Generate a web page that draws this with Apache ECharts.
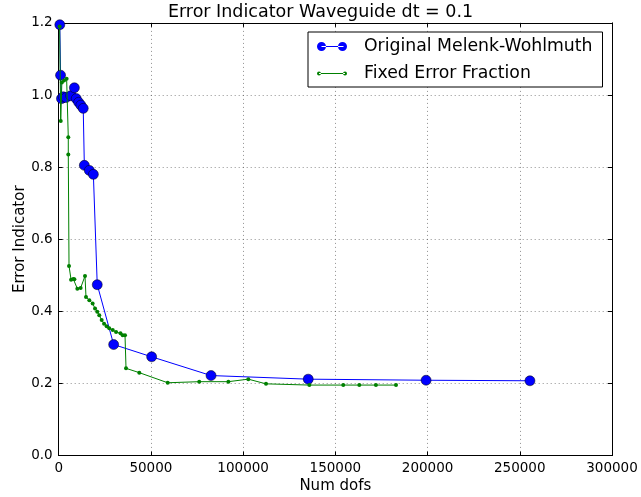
<!DOCTYPE html>
<html>
<head>
<meta charset="utf-8">
<script src="https://cdn.jsdelivr.net/npm/echarts@6/dist/echarts.min.js"></script>
<style>
  html, body { margin: 0; padding: 0; background: #fff; }
  #chart { width: 641px; height: 497px; }
</style>
</head>
<body>
<div id="chart"></div>
<script>
// Number of degrees of freedom vs. error indicator for two refinement strategies
const seriesNames = ['Original Melenk-Wohlmuth', 'Fixed Error Fraction'];

const melenkDofs = [600, 1000, 1500, 2500, 4000, 6500, 8500, 9500, 10800, 12000, 13300,
  13900, 16600, 18800, 20900, 29800, 50400, 82600, 135300, 199200, 255500];
const melenkError = [1.195, 1.055, 0.99, 0.995, 0.993, 0.998, 1.02, 0.99, 0.98, 0.972, 0.963,
  0.805, 0.791, 0.78, 0.474, 0.308, 0.274, 0.222, 0.212, 0.209, 0.2075];

const fixedDofs = [500, 1100, 1700, 2900, 4300, 5200, 5200, 5600, 6700, 7900, 8500, 10100,
  11900, 14260, 14800, 16600, 18400, 19700, 20900, 22000, 23300, 24600, 26000, 27400, 29300,
  31100, 33500, 34700, 35950, 36500, 43700, 59100, 76200, 92000, 102800, 112400, 135900,
  154300, 163000, 172000, 182900];
const fixedError = [1.19, 0.928, 1.035, 1.04, 1.045, 0.883, 0.835, 0.526, 0.488, 0.49, 0.489,
  0.463, 0.465, 0.498, 0.44, 0.431, 0.422, 0.408, 0.399, 0.389, 0.376, 0.366, 0.359, 0.353,
  0.348, 0.343, 0.339, 0.334, 0.334, 0.242, 0.230, 0.202, 0.205, 0.205, 0.212, 0.199, 0.1956,
  0.1956, 0.1956, 0.1956, 0.1956];

const xTicks = [0, 50000, 100000, 150000, 200000, 250000, 300000];
const yTicks = [0.0, 0.2, 0.4, 0.6, 0.8, 1.0, 1.2];

const FONT = 'DejaVu Sans';
const pair = (xs, ys) => xs.map((x, i) => [x, ys[i]]);

const chart = echarts.init(document.getElementById('chart'), null, { renderer: 'canvas' });

const gridLine = { show: true, lineStyle: { color: '#444', width: 0.6, type: [1, 3] } };
const tickIn = { show: true, inside: true, length: 4, lineStyle: { color: '#000', width: 1 } };

const xBase = {
  type: 'value', min: xTicks[0], max: xTicks[xTicks.length - 1],
  interval: xTicks[1] - xTicks[0]
};
const yBase = {
  type: 'value', min: yTicks[0], max: yTicks[yTicks.length - 1],
  interval: yTicks[1] - yTicks[0]
};

chart.setOption({
  animation: false,
  backgroundColor: '#fff',
  title: {
    text: 'Error Indicator Waveguide dt = 0.1',
    left: 'center', top: -2,
    textStyle: { fontFamily: FONT, fontSize: 17.5, fontWeight: 'normal', color: '#000' }
  },
  grid: {
    left: 58.7, right: 29, top: 22.9, bottom: 41.4,
    containLabel: false, outerBoundsMode: 'none'
  },
  legend: {
    orient: 'vertical',
    left: 308, top: 32,
    padding: [6, 10, 5, 9],
    itemGap: 10,
    itemWidth: 30, itemHeight: 9,
    borderColor: '#000', borderWidth: 1, borderRadius: 0,
    backgroundColor: '#fff',
    textStyle: { fontFamily: FONT, fontSize: 17.3, color: '#000', padding: [0, 0, 0, 12] },
    data: [
      { name: seriesNames[0],
        icon: 'path://M0,4.5a4.5,4.5 0 1,0 9,0a4.5,4.5 0 1,0 -9,0Z M4.5,4h22v1h-22Z M21,4.5a4.5,4.5 0 1,0 9,0a4.5,4.5 0 1,0 -9,0Z',
        itemStyle: { color: '#0000ff', borderWidth: 0 } },
      { name: seriesNames[1],
        icon: 'path://M0,4.5a2,2 0 1,0 4,0a2,2 0 1,0 -4,0Z M2,4h26v1h-26Z M26,4.5a2,2 0 1,0 4,0a2,2 0 1,0 -4,0Z',
        itemStyle: { color: '#008000', borderWidth: 0 } }
    ]
  },
  xAxis: [
    Object.assign({}, xBase, {
      position: 'bottom',
      name: 'Num dofs', nameLocation: 'middle', nameGap: 23, nameMoveOverlap: false,
      nameTextStyle: { fontFamily: FONT, fontSize: 15, color: '#000' },
      axisLine: { show: true, onZero: false, lineStyle: { color: '#000', width: 1 } },
      axisTick: tickIn,
      axisLabel: { fontFamily: FONT, fontSize: 13.5, color: '#000', margin: 6,
        formatter: v => String(v) },
      splitLine: gridLine
    }),
    Object.assign({}, xBase, {
      position: 'top',
      axisLine: { show: true, onZero: false, lineStyle: { color: '#000', width: 1 } },
      axisTick: tickIn,
      axisLabel: { show: false },
      splitLine: { show: false }
    })
  ],
  yAxis: [
    Object.assign({}, yBase, {
      position: 'left',
      name: 'Error Indicator', nameLocation: 'middle', nameGap: 31, nameRotate: 90,
      nameMoveOverlap: false,
      nameTextStyle: { fontFamily: FONT, fontSize: 15, color: '#000' },
      axisLine: { show: true, onZero: false, lineStyle: { color: '#000', width: 1 } },
      axisTick: tickIn,
      axisLabel: { fontFamily: FONT, fontSize: 13.5, color: '#000', margin: 6,
        formatter: v => v.toFixed(1) },
      splitLine: gridLine
    }),
    Object.assign({}, yBase, {
      position: 'right',
      axisLine: { show: true, onZero: false, lineStyle: { color: '#000', width: 1 } },
      axisTick: tickIn,
      axisLabel: { show: false },
      splitLine: { show: false }
    })
  ],
  series: [
    {
      name: seriesNames[0], type: 'line', xAxisIndex: 0, yAxisIndex: 0,
      data: pair(melenkDofs, melenkError),
      symbol: 'circle', symbolSize: 10, showSymbol: true, showAllSymbol: true,
      lineStyle: { color: '#0000ff', width: 1 },
      itemStyle: { color: '#0000ff', borderColor: '#000', borderWidth: 0.5 },
      clip: true, z: 2
    },
    {
      name: seriesNames[1], type: 'line', xAxisIndex: 0, yAxisIndex: 0,
      data: pair(fixedDofs, fixedError),
      symbol: 'circle', symbolSize: 4, showSymbol: true, showAllSymbol: true,
      lineStyle: { color: '#008000', width: 1 },
      itemStyle: { color: '#008000', borderWidth: 0 },
      clip: true, z: 3
    }
  ]
});
</script>
</body>
</html>
